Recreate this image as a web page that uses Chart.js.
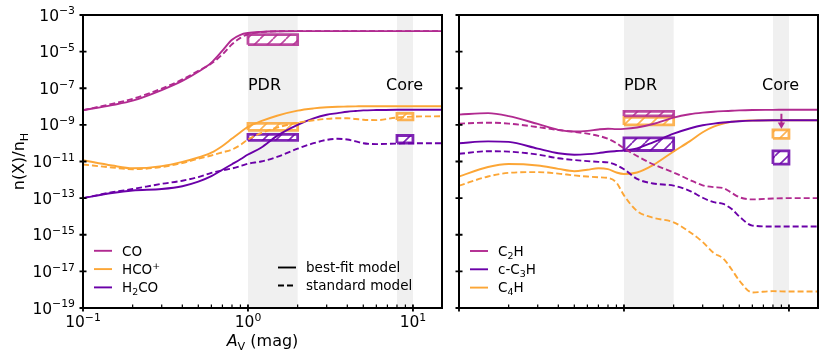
<!DOCTYPE html>
<html>
<head>
<meta charset="utf-8">
<script src="https://cdn.jsdelivr.net/npm/chart.js@4.4.1/dist/chart.umd.min.js"></script>
<style>
  html, body { margin: 0; padding: 0; background: #fff; }
  #wrap { position: relative; width: 830px; height: 363px; }
  #wrap canvas { position: absolute; top: 0; }
  #left { left: 0; }
  #right { left: 450px; }
</style>
</head>
<body>
<div id="wrap">
  <canvas id="left" width="450" height="363"></canvas>
  <canvas id="right" width="380" height="363"></canvas>
</div>
<script>
// --- data (abundances stored as log10 n(X)/nH) ---
const avGrid = [0.1, 0.15, 0.2, 0.3, 0.4, 0.5, 0.6, 0.7, 0.8, 0.9, 1, 1.2, 1.5, 2, 2.5, 3, 3.5, 4, 4.5, 5, 6, 8, 10, 15];

const coBest   = [-8.2, -7.92, -7.68, -7.1, -6.6, -6.1, -5.6, -4.95, -4.35, -4.08, -3.98, -3.92, -3.89, -3.88, -3.88, -3.88, -3.88, -3.88, -3.88, -3.88, -3.88, -3.88, -3.88, -3.88];
const coStd    = [-8.2, -7.85, -7.58, -7.02, -6.52, -6.05, -5.65, -5.15, -4.6, -4.25, -4.05, -3.93, -3.89, -3.88, -3.88, -3.88, -3.88, -3.88, -3.88, -3.88, -3.88, -3.88, -3.88, -3.88];
const hcoBest  = [-10.93, -11.22, -11.37, -11.25, -11.02, -10.78, -10.52, -10.15, -9.75, -9.4, -9.1, -8.8, -8.5, -8.22, -8.1, -8.04, -8.01, -8.0, -7.99, -7.98, -7.98, -7.98, -7.98, -7.98];
const hcoStd   = [-11.16, -11.33, -11.42, -11.3, -11.08, -10.85, -10.67, -10.5, -10.35, -10.1, -9.8, -9.45, -9.15, -8.88, -8.75, -8.67, -8.64, -8.64, -8.68, -8.72, -8.74, -8.6, -8.55, -8.53];
const h2coBest = [-13.0, -12.72, -12.58, -12.5, -12.35, -12.1, -11.8, -11.45, -11.15, -10.88, -10.62, -10.25, -9.6, -9.0, -8.65, -8.45, -8.36, -8.28, -8.24, -8.21, -8.19, -8.17, -8.17, -8.17];
const h2coStd  = [-13.0, -12.68, -12.5, -12.22, -12.05, -11.85, -11.62, -11.48, -11.38, -11.25, -11.12, -11.0, -10.75, -10.3, -10.0, -9.82, -9.76, -9.8, -9.9, -10.0, -10.05, -10.02, -10.0, -10.0];

const c2hBest  = [-8.44, -8.36, -8.52, -8.95, -9.27, -9.36, -9.33, -9.25, -9.21, -9.23, -9.22, -9.14, -8.95, -8.6, -8.42, -8.33, -8.28, -8.25, -8.23, -8.21, -8.19, -8.18, -8.17, -8.17];
const c2hStd   = [-8.93, -8.88, -8.93, -9.12, -9.28, -9.38, -9.48, -9.6, -9.76, -10.0, -10.28, -10.7, -11.15, -11.6, -12.0, -12.3, -12.4, -12.45, -12.72, -12.95, -13.07, -13.02, -13.0, -13.0];
const c3hBest  = [-10.0, -9.9, -9.93, -10.3, -10.55, -10.63, -10.6, -10.54, -10.47, -10.43, -10.4, -10.28, -9.95, -9.48, -9.2, -9.02, -8.93, -8.87, -8.83, -8.8, -8.77, -8.75, -8.75, -8.75];
const c3hStd   = [-10.58, -10.44, -10.46, -10.62, -10.82, -10.92, -10.98, -11.02, -11.05, -11.2, -11.42, -11.95, -12.2, -12.32, -12.6, -12.98, -13.22, -13.32, -13.6, -14.0, -14.5, -14.55, -14.55, -14.55];
const c4hBest  = [-11.82, -11.3, -11.14, -11.22, -11.4, -11.53, -11.45, -11.37, -11.42, -11.6, -11.68, -11.6, -11.2, -10.45, -9.9, -9.4, -9.1, -8.93, -8.83, -8.78, -8.76, -8.75, -8.75, -8.75];
const c4hStd   = [-12.32, -11.82, -11.62, -11.58, -11.66, -11.76, -11.82, -11.86, -11.9, -12.15, -12.85, -13.7, -14.07, -14.32, -14.85, -15.4, -16.0, -16.3, -16.9, -17.5, -18.15, -18.08, -18.1, -18.1];

// observed ranges (log10), PDR and Core
const pdrAv  = [1, 2];
const coreAv = [8, 10];
const obsCOPdr    = [-4.62, -4.07];
const obsHCOPdr   = [-9.3, -8.92];
const obsH2COPdr  = [-9.85, -9.52];
const obsHCOCore  = [-8.73, -8.37];
const obsH2COCore = [-9.99, -9.58];
const obsC2HPdr   = [-8.51, -8.26];
const obsC4HPdr   = [-9.0, -8.59];
const obsC3HPdr   = [-10.4, -9.71];
const obsC4HCore  = [-9.74, -9.27];
const obsC3HCore  = [-11.14, -10.42];
const c2hCoreLimitAv = 9;
const c2hCoreLimit   = [-8.39, -8.98]; // upper limit arrow

// axes
const yTickExps = [-3, -5, -7, -9, -11, -13, -15, -17, -19];
const xMajor = [0.1, 1, 10];
const xMajorExp = ['\u22121', '0', '1'];
const xMinor = [0.2, 0.3, 0.4, 0.5, 0.6, 0.7, 0.8, 0.9, 2, 3, 4, 5, 6, 7, 8, 9];
const bands = [pdrAv, coreAv];

// --- styles ---
const MAG = '#b12a90', ORA = '#fca636', PUR = '#6a00a8';
const FONT = '"DejaVu Sans", sans-serif';
const LW = 1.9;

function rgba(hex, a) {
    const n = parseInt(hex.slice(1), 16);
    return `rgba(${n >> 16},${(n >> 8) & 255},${n & 255},${a})`;
}

function hatch(color) {
    const s = 13;
    const c = document.createElement('canvas');
    c.width = s; c.height = s;
    const g = c.getContext('2d');
    g.fillStyle = '#fff';
    g.fillRect(0, 0, s, s);
    g.strokeStyle = rgba(color, 0.85);
    g.lineWidth = 1.6;
    g.beginPath();
    for (const k of [-s, 0, s]) { g.moveTo(k, s); g.lineTo(k + s, 0); }
    g.stroke();
    return g.createPattern(c, 'repeat');
}

const toPts = logs => avGrid.map((a, i) => ({ x: a, y: 10 ** logs[i] }));

function curve(logs, color, dashed) {
    return {
        data: toPts(logs), borderColor: color, borderWidth: LW,
        borderDash: dashed ? [6, 3] : [], pointRadius: 0,
        cubicInterpolationMode: 'monotone', fill: false, order: 0
    };
}

function box(xr, yr, color) {
    const lo = 10 ** yr[0], hi = 10 ** yr[1];
    return {
        data: [{ x: xr[0], y: lo }, { x: xr[1], y: lo }, { x: xr[1], y: hi }, { x: xr[0], y: hi }, { x: xr[0], y: lo }],
        borderColor: rgba(color, 0.85), borderWidth: 2.8, borderJoinStyle: 'miter',
        backgroundColor: hatch(color), fill: 'shape', pointRadius: 0, tension: 0, order: 5
    };
}

function arrow(av, yr, color) {
    return {
        data: [{ x: av, y: 10 ** yr[0] }, { x: av, y: 10 ** yr[1] }],
        borderColor: color, borderWidth: 2, pointRadius: [0, 4.2], pointStyle: 'triangle',
        rotation: 180, pointBackgroundColor: color, pointBorderWidth: 0, fill: false, order: 1
    };
}

// text helpers: parts = [text, mode(0 normal, 1 sup, -1 sub), italic]
function richWidth(ctx, parts, size) {
    let w = 0;
    for (const [t, m, it] of parts) {
        ctx.font = `${it ? 'italic ' : ''}${m ? size * 0.7 : size}px ${FONT}`;
        w += ctx.measureText(t).width;
    }
    return w;
}
function richText(ctx, parts, x, y, size, align) {
    const w = richWidth(ctx, parts, size);
    let cx = align === 'right' ? x - w : align === 'center' ? x - w / 2 : x;
    ctx.textAlign = 'left';
    ctx.textBaseline = 'alphabetic';
    for (const [t, m, it] of parts) {
        ctx.font = `${it ? 'italic ' : ''}${m ? size * 0.7 : size}px ${FONT}`;
        const dy = m === 1 ? -size * 0.4 : m === -1 ? size * 0.22 : 0;
        ctx.fillText(t, cx, y + dy);
        cx += ctx.measureText(t).width;
    }
}

const framePlugin = {
    id: 'frame',
    beforeDatasetsDraw(chart) {
        const { ctx, chartArea: a, scales: { x } } = chart;
        ctx.save();
        ctx.fillStyle = '#f0f0f0';
        for (const [b0, b1] of bands) {
            const x0 = x.getPixelForValue(b0), x1 = x.getPixelForValue(b1);
            ctx.fillRect(x0, a.top, x1 - x0, a.bottom - a.top);
        }
        ctx.restore();
    },
    afterDatasetsDraw(chart, args, opts) {
        const { ctx, chartArea: a, scales: { x, y } } = chart;
        ctx.save();
        ctx.fillStyle = '#000';
        ctx.strokeStyle = '#000';

        // region labels
        ctx.font = `16px ${FONT}`;
        ctx.textBaseline = 'alphabetic';
        const ty = y.getPixelForValue(10 ** -7.07);
        ctx.textAlign = 'left';
        ctx.fillText('PDR', x.getPixelForValue(1), ty);
        ctx.textAlign = 'center';
        ctx.fillText('Core', x.getPixelForValue(8.9), ty);

        // spines
        ctx.lineWidth = 2;
        ctx.strokeRect(a.left, a.top, a.right - a.left, a.bottom - a.top);

        // y ticks
        ctx.lineWidth = 1.8;
        ctx.beginPath();
        for (const e of yTickExps) {
            const py = y.getPixelForValue(10 ** e);
            ctx.moveTo(a.left - 3.5, py); ctx.lineTo(a.left + 3.5, py);
        }
        // x major ticks
        for (const v of xMajor) {
            const px = x.getPixelForValue(v);
            ctx.moveTo(px, a.bottom - 3.5); ctx.lineTo(px, a.bottom + 3.5);
        }
        ctx.stroke();
        ctx.lineWidth = 1.2;
        ctx.beginPath();
        for (const v of xMinor) {
            const px = x.getPixelForValue(v);
            if (px > a.right) continue;
            ctx.moveTo(px, a.bottom); ctx.lineTo(px, a.bottom - 3.5);
        }
        ctx.stroke();

        if (opts.labels) {
            for (const e of yTickExps) {
                const py = y.getPixelForValue(10 ** e);
                richText(ctx, [['10', 0], ['\u2212' + (-e), 1]], a.left - 8, py + 5.5, 15.5, 'right');
            }
            xMajor.forEach((v, i) => {
                richText(ctx, [['10', 0], [xMajorExp[i], 1]], x.getPixelForValue(v), 327, 15.5, 'center');
            });
            richText(ctx, [['A', 0, true], ['V', -1], [' (mag)', 0]], (a.left + a.right) / 2, 346, 16, 'center');
            ctx.save();
            ctx.translate(24, (a.top + a.bottom) / 2);
            ctx.rotate(-Math.PI / 2);
            richText(ctx, [['n(X)/n', 0], ['H', -1]], 0, 0, 16, 'center');
            ctx.restore();
        }

        // legends
        for (const lg of opts.legends) {
            lg.rows.forEach((r, i) => {
                const ry = lg.y + i * lg.dy;
                ctx.strokeStyle = r.color;
                ctx.lineWidth = LW;
                ctx.setLineDash(r.dash || []);
                ctx.beginPath();
                ctx.moveTo(a.left + lg.x, ry); ctx.lineTo(a.left + lg.x + 18, ry);
                ctx.stroke();
                ctx.setLineDash([]);
                ctx.fillStyle = '#000';
                richText(ctx, r.text, a.left + lg.x + 28, ry + 4.8, 13.5, 'left');
            });
        }
        ctx.restore();
    }
};

function panel(id, datasets, yWidth, padRight, opts) {
    return new Chart(document.getElementById(id), {
        type: 'line',
        data: { datasets },
        plugins: [framePlugin],
        options: {
            responsive: false,
            animation: false,
            devicePixelRatio: 1,
            layout: { padding: { top: 15, right: padRight, left: 0, bottom: 0 } },
            plugins: { legend: { display: false }, tooltip: { enabled: false }, frame: opts },
            scales: {
                x: {
                    type: 'logarithmic', min: 0.1, max: 15,
                    ticks: { display: false }, grid: { display: false }, border: { display: false },
                    afterFit: s => { s.height = 55; }
                },
                y: {
                    type: 'logarithmic', min: 1e-19, max: 1e-3,
                    ticks: { display: false }, grid: { display: false }, border: { display: false },
                    afterFit: s => { s.width = yWidth; }
                }
            }
        }
    });
}

panel('left', [
    curve(coBest, MAG, false), curve(coStd, MAG, true),
    curve(hcoBest, ORA, false), curve(hcoStd, ORA, true),
    curve(h2coBest, PUR, false), curve(h2coStd, PUR, true),
    box(pdrAv, obsCOPdr, MAG), box(pdrAv, obsHCOPdr, ORA), box(pdrAv, obsH2COPdr, PUR),
    box(coreAv, obsHCOCore, ORA), box(coreAv, obsH2COCore, PUR)
], 83, 8, {
    labels: true,
    legends: [
        { x: 11, y: 250.8, dy: 18.3, rows: [
            { color: MAG, text: [['CO', 0]] },
            { color: ORA, text: [['HCO', 0], ['+', 1]] },
            { color: PUR, text: [['H', 0], ['2', -1], ['CO', 0]] }
        ] },
        { x: 195, y: 267.5, dy: 18, rows: [
            { color: '#000', text: [['best-fit model', 0]] },
            { color: '#000', dash: [6, 3], text: [['standard model', 0]] }
        ] }
    ]
});

panel('right', [
    curve(c2hBest, MAG, false), curve(c2hStd, MAG, true),
    curve(c3hBest, PUR, false), curve(c3hStd, PUR, true),
    curve(c4hBest, ORA, false), curve(c4hStd, ORA, true),
    box(pdrAv, obsC2HPdr, MAG), box(pdrAv, obsC4HPdr, ORA), box(pdrAv, obsC3HPdr, PUR),
    box(coreAv, obsC4HCore, ORA), box(coreAv, obsC3HCore, PUR),
    arrow(c2hCoreLimitAv, c2hCoreLimit, MAG)
], 9, 12, {
    labels: false,
    legends: [
        { x: 11, y: 251, dy: 18.3, rows: [
            { color: MAG, text: [['C', 0], ['2', -1], ['H', 0]] },
            { color: PUR, text: [['c-C', 0], ['3', -1], ['H', 0]] },
            { color: ORA, text: [['C', 0], ['4', -1], ['H', 0]] }
        ] }
    ]
});
</script>
</body>
</html>
